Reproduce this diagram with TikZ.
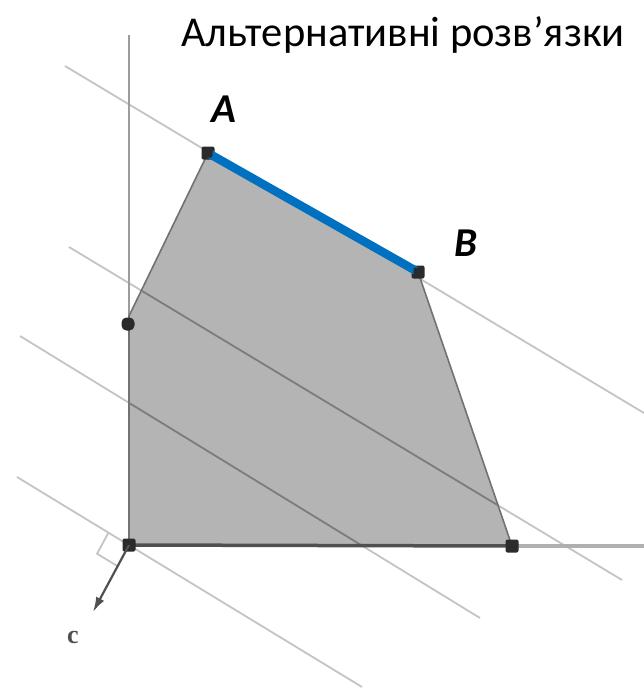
\documentclass[tikz,border=0pt]{standalone}
\usepackage{fontspec}
\setmainfont{Carlito}
\newfontfamily\serifb{Liberation Serif}
\usetikzlibrary{arrows.meta}
\definecolor{regionfill}{HTML}{B4B4B4}
\definecolor{regionedge}{HTML}{727272}
\definecolor{isolight}{HTML}{C4C4C4}
\definecolor{isodark}{HTML}{7C7C7C}
\definecolor{axisgray}{HTML}{9C9C9C}
\definecolor{axisdark}{HTML}{505050}
\definecolor{dotcol}{HTML}{2B2B2B}
\definecolor{segblue}{HTML}{0070C0}
\tikzset{
  isoline/.style={draw=isolight, line width=1.8},
  isoinner/.style={draw=isodark, line width=1.8},
  vertexdot/.style={rectangle, rounded corners=2, minimum size=13, inner sep=0, fill=dotcol},
  ptlabel/.style={font=\fontsize{41}{44}\selectfont\bfseries\itshape, inner sep=0},
}
\begin{document}
\begin{tikzpicture}[x=1pt, y=-1pt]
\useasboundingbox[fill=white] (0,0) rectangle (644,691);
% polygon vertices
\coordinate (O) at (129,545);
\coordinate (P) at (129,316);
\coordinate (Ac) at (208,153);
\coordinate (Bc) at (418,272);
\coordinate (R) at (512,546);
% iso-line ends
\coordinate (l1s) at (65,66);   \coordinate (l1e) at (644,413);
\coordinate (l2s) at (69,247);  \coordinate (l2e) at (622,580);
\coordinate (l3s) at (20,336);  \coordinate (l3e) at (480,618);
\coordinate (l4s) at (17,477);  \coordinate (l4e) at (362,687);
\coordinate (ytop) at (129,35);
\coordinate (xend) at (644,546);
\coordinate (ctip) at (93,612);
\coordinate (ra1) at (108.5,532.5);
\coordinate (ra2) at (117.6,566.2);
\coordinate (rac) at (97.1,553.7);
% light iso-lines
\draw[isoline] (l1s) -- (l1e);
\draw[isoline] (l2s) -- (l2e);
\draw[isoline] (l3s) -- (l3e);
\draw[isoline] (l4s) -- (l4e);
% y axis
\draw[axisgray, line width=2] (ytop) -- (O);
% feasible region
\filldraw[fill=regionfill, draw=regionedge, line width=1.6] (O) -- (P) -- (Ac) -- (Bc) -- (R) -- cycle;
\begin{scope}
  \clip (O) -- (P) -- (Ac) -- (Bc) -- (R) -- cycle;
  \draw[isoinner] (l2s) -- (l2e);
  \draw[isoinner] (l3s) -- (l3e);
\end{scope}
% x axis
\draw[axisgray!80, line width=4] (R) -- (xend);
\draw[axisdark, line width=3.5] (O) -- (R);
% dots
\node[vertexdot] (A) at (Ac) {};
\node[vertexdot] (B) at (Bc) {};
\node[vertexdot, rounded corners=5] (Pd) at (128,324) {};
\node[vertexdot] (Od) at (O) {};
\node[vertexdot] (Rd) at (R) {};
% optimal edge
\draw[segblue, line width=8.5] (A.center) -- (B.center);
\node[vertexdot, minimum size=9] at (Ac) {};
\node[vertexdot, minimum size=9] at (Bc) {};
% c vector and right angle mark
\draw[isolight, line width=1.8] (ra1) -- (rac) -- (ra2);
\draw[axisdark, line width=2.2, -{Latex[length=15, width=9]}] (Od.center) -- (ctip);
\node[text=axisdark, font=\serifb\fontsize{26}{28}\selectfont\bfseries, inner sep=0] (clab) at (73,637) {c};
% labels
\node[ptlabel, anchor=base] (Alab) at (224,122) {A};
\node[ptlabel, anchor=base] (Blab) at (466,256) {B};
\node[font=\fontsize{42.5}{46}\selectfont, anchor=base, inner sep=0] (title) at (403,46) {Альтернативні розв’язки};
\end{tikzpicture}
\end{document}
